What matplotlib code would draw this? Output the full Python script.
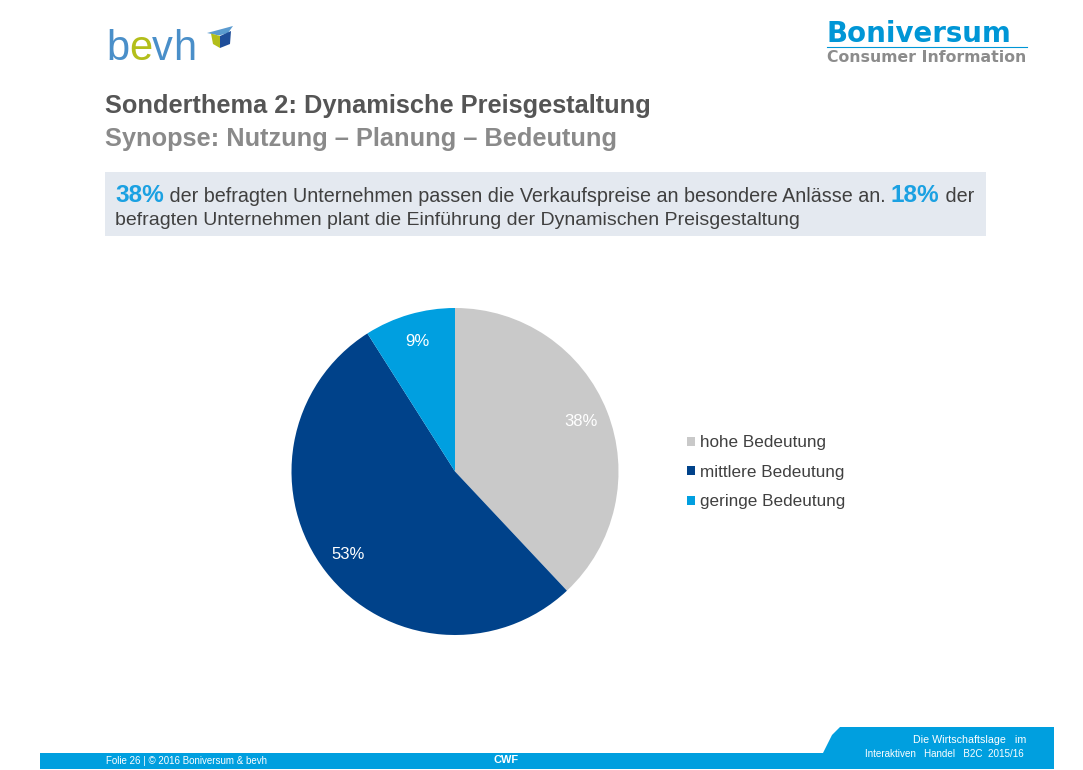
import matplotlib.pyplot as plt
from matplotlib.patches import Rectangle, Polygon

plt.rcParams['font.family'] = ['Liberation Sans', 'DejaVu Sans']

W, H = 1083, 770

labels = ['hohe Bedeutung', 'mittlere Bedeutung', 'geringe Bedeutung']
values = [38, 53, 9]
colors = ['#C9C9C9', '#00428A', '#009FE0']

title = 'Sonderthema 2: Dynamische Preisgestaltung'
subtitle = 'Synopse: Nutzung \u2013 Planung \u2013 Bedeutung'
key1, key2 = '38%', '18%'
line1 = ' der befragten Unternehmen passen die Verkaufspreise an besondere Anlässe an. '
line2 = 'befragten Unternehmen plant die Einführung der Dynamischen Preisgestaltung'

fig = plt.figure(figsize=(W / 100, H / 100), dpi=100)
ax = fig.add_axes([0, 0, 1, 1])
r = fig.canvas.get_renderer()


def fit(x, y, s, width, **kw):
    t = ax.text(x, y, s, fontsize=10, va='baseline', **kw)
    w = t.get_window_extent(r).width
    t.set_fontsize(10 * width / w)
    return t


# pie (y axis is inverted, so angles are mirrored)
wedges, texts, autotexts = ax.pie(
    values, colors=colors, startangle=-90, counterclock=True,
    center=(455, 471.5), radius=163.5, autopct=lambda p: f'{p:.0f}%',
    pctdistance=0.83, wedgeprops=dict(linewidth=0), frame=True,
    textprops=dict(color='white', fontsize=12))

ax.set_xlim(0, W)
ax.set_ylim(H, 0)
ax.set_aspect('equal')
ax.axis('off')

ax.legend(wedges, labels, loc='upper left', bbox_to_anchor=(672 / W, 1 - 420 / H),
          frameon=False, fontsize=12.3, handlelength=0.45, handleheight=0.45,
          handletextpad=0.3, labelspacing=0.85, labelcolor='#404040')

# title
fit(105, 113, title, 547, color='#555555', fontweight='bold')
fit(105, 146, subtitle, 512, color='#8A8A8A', fontweight='bold')

# highlight box
ax.add_patch(Rectangle((105, 172), 881, 64, color='#E4E9F0', lw=0, zorder=0))
parts = [(key1, '#1BA1E2', 'bold', 16), (line1, '#404040', 'normal', 13),
         (key2, '#1BA1E2', 'bold', 16), (' der', '#404040', 'normal', 13)]
objs = []
x = 115
for s, c, wgt, fs in parts:
    t = ax.text(x, 201.5, s, color=c, fontweight=wgt, fontsize=fs, va='baseline')
    objs.append((t, fs))
    x = t.get_window_extent(r).x1
scale = (971 - 115) / (x - 115)
x = 115
for t, fs in objs:
    t.set_fontsize(fs * scale)
    t.set_x(x)
    x = t.get_window_extent(r).x1
fit(115, 225, line2, 685, color='#404040')

# bevh logo
x = 106
for s, c in zip('bevh', ['#4A8FC9', '#B3BE1A', '#4A8FC9', '#4A8FC9']):
    t = ax.text(x, 60, s, color=c, fontsize=30, va='baseline')
    x = t.get_window_extent(r).x1
ax.add_patch(Polygon([(207, 33), (233, 26), (228, 33), (219, 35.5)], color='#5B9BD0', lw=0))
ax.add_patch(Polygon([(211, 33.5), (220, 36), (220, 48), (213, 44)], color='#B3BE1A', lw=0))
ax.add_patch(Polygon([(220, 36), (231, 31), (230, 44), (220, 48)], color='#1F4E9A', lw=0))

# Boniversum logo
fit(826.5, 42.5, 'Boniversum', 184, color='#0096D6', fontweight='bold',
    family='DejaVu Sans')
ax.plot([827, 1027], [46.5, 46.5], color='#0096D6', lw=0.8)
fit(827, 61.5, 'Consumer Information', 200, color='#8C8C8C', fontweight='bold',
    family='DejaVu Sans')

# footer
ax.add_patch(Rectangle((40, 753), 1014, 16, color='#009FDF', lw=0))
ax.add_patch(Polygon([(823, 753), (832, 735), (840, 727), (1054, 727), (1054, 753)],
                     color='#009FDF', lw=0))
fit(106, 764.5, 'Folie 26 | © 2016 Boniversum & bevh', 162, color='white')
fit(494, 763, 'CWF', 25, color='white', fontweight='bold')
fit(913, 743, 'Die Wirtschaftslage   im', 112, color='white')
fit(865, 757, 'Interaktiven   Handel   B2C  2015/16', 160, color='white')

fig.savefig('out.png', dpi=100)
